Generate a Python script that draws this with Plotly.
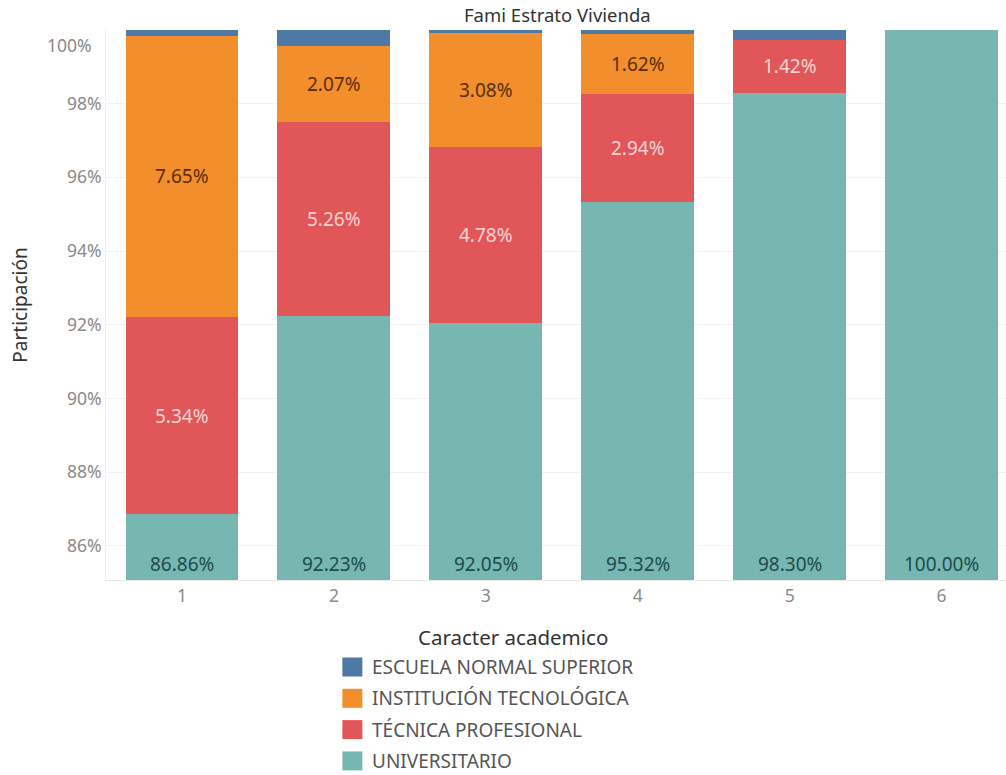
import plotly.graph_objects as go

# Categories (estrato) and participation by academic character, in percent
estratos = ["1", "2", "3", "4", "5", "6"]
universitario = [86.86, 92.23, 92.05, 95.32, 98.30, 100.00]
tecnica = [5.34, 5.26, 4.78, 2.94, 1.42, 0.0]
tecnologica = [7.65, 2.07, 3.08, 1.62, 0.0, 0.0]
escuela = [0.15, 0.44, 0.09, 0.12, 0.28, 0.0]

y_ticks = [86, 88, 90, 92, 94, 96, 98, 100]

series_names = ["ESCUELA NORMAL SUPERIOR", "INSTITUCIÓN TECNOLÓGICA",
                "TÉCNICA PROFESIONAL", "UNIVERSITARIO"]
colors = {"ESCUELA NORMAL SUPERIOR": "#4e79a7",
          "INSTITUCIÓN TECNOLÓGICA": "#f28e2b",
          "TÉCNICA PROFESIONAL": "#e15759",
          "UNIVERSITARIO": "#76b7b2"}

FONT = "Noto Sans"
LABEL_SIZE = 19
TICK_SIZE = 17.5
Y_MIN, Y_MAX = 85.07, 100.0

# Stack order: bottom to top
stack = [("UNIVERSITARIO", universitario),
         ("TÉCNICA PROFESIONAL", tecnica),
         ("INSTITUCIÓN TECNOLÓGICA", tecnologica),
         ("ESCUELA NORMAL SUPERIOR", escuela)]

fig = go.Figure()
for name, vals in stack:
    fig.add_trace(go.Bar(
        x=estratos, y=vals, name=name,
        marker=dict(color=colors[name], line=dict(width=0)),
        showlegend=False,
    ))

annotations = []
label_colors = {"UNIVERSITARIO": "#1f4b4b",
                "TÉCNICA PROFESIONAL": "#f7d3d3",
                "INSTITUCIÓN TECNOLÓGICA": "#5a2e0c"}
for i, cat in enumerate(estratos):
    base = 0.0
    for name, vals in stack:
        v = vals[i]
        if name == "UNIVERSITARIO":
            annotations.append(dict(
                x=i, y=Y_MIN, xref="x", yref="y", yanchor="bottom", yshift=1,
                text=f"{v:.2f}%", showarrow=False,
                font=dict(family=FONT, size=LABEL_SIZE, color=label_colors[name])))
        elif name in label_colors and v > 0.5:
            annotations.append(dict(
                x=i, y=base + v / 2, xref="x", yref="y", yanchor="middle",
                text=f"{v:.2f}%", showarrow=False,
                font=dict(family=FONT, size=LABEL_SIZE, color=label_colors[name])))
        base += v

# Top tick label is nudged inside the pane
annotations.append(dict(
    x=0, xref="paper", xanchor="right", xshift=-12, y=y_ticks[-1], yref="y",
    yanchor="middle", yshift=-15, text=f"{y_ticks[-1]}%", showarrow=False,
    font=dict(family=FONT, size=TICK_SIZE, color="#8a8a8a")))

# Pixel helpers for items placed outside the plotting area
PX0, PW, PY_BOTTOM, PH = 105.5, 900.5, 580.0, 550.0


def px(xp):
    return (xp - PX0) / PW


def py(yp):
    return (PY_BOTTOM - yp) / PH


# Chart title
annotations.append(dict(
    x=px(557), y=py(14), xref="paper", yref="paper", xanchor="center",
    yanchor="middle", text="Fami Estrato Vivienda", showarrow=False,
    font=dict(family=FONT, size=18.5, color="#333333")))

# Custom legend below the chart
annotations.append(dict(
    x=px(513), y=py(637), xref="paper", yref="paper", xanchor="center",
    yanchor="middle", text="Caracter academico", showarrow=False,
    font=dict(family=FONT, size=20.5, color="#333333")))

shapes = []
for k, name in enumerate(series_names):
    yc = 667 + k * 31.3
    shapes.append(dict(
        type="rect", xref="paper", yref="paper",
        x0=px(342), x1=px(362), y0=py(yc + 9.5), y1=py(yc - 9.5),
        fillcolor=colors[name], line=dict(width=0)))
    annotations.append(dict(
        x=px(370), y=py(yc), xref="paper", yref="paper", xanchor="left",
        yanchor="middle", text=name, showarrow=False,
        font=dict(family=FONT, size=19, color="#555555")))

fig.update_layout(
    barmode="stack",
    bargap=0.257,
    width=1006, height=775,
    margin=dict(l=105.5, r=0, t=30, b=195),
    paper_bgcolor="white", plot_bgcolor="white",
    font=dict(family=FONT, size=TICK_SIZE, color="#8a8a8a"),
    annotations=annotations,
    shapes=shapes,
    xaxis=dict(
        range=[-0.5, 5.424], showgrid=False, zeroline=False,
        showline=True, linecolor="#e6e6e6", ticks="",
        tickfont=dict(family=FONT, size=TICK_SIZE, color="#8a8a8a"),
    ),
    yaxis=dict(
        range=[Y_MIN, Y_MAX], tickvals=y_ticks[:-1],
        ticktext=[f"{t}%" for t in y_ticks[:-1]],
        showgrid=True, gridcolor="#f2f2f2", zeroline=False,
        showline=True, linecolor="#f0f0f0", ticks="",
        tickfont=dict(family=FONT, size=TICK_SIZE, color="#8a8a8a"),
        title=dict(text="Participación", standoff=34,
                   font=dict(family=FONT, size=19, color="#333333")),
    ),
)

fig.write_html("out.html")
